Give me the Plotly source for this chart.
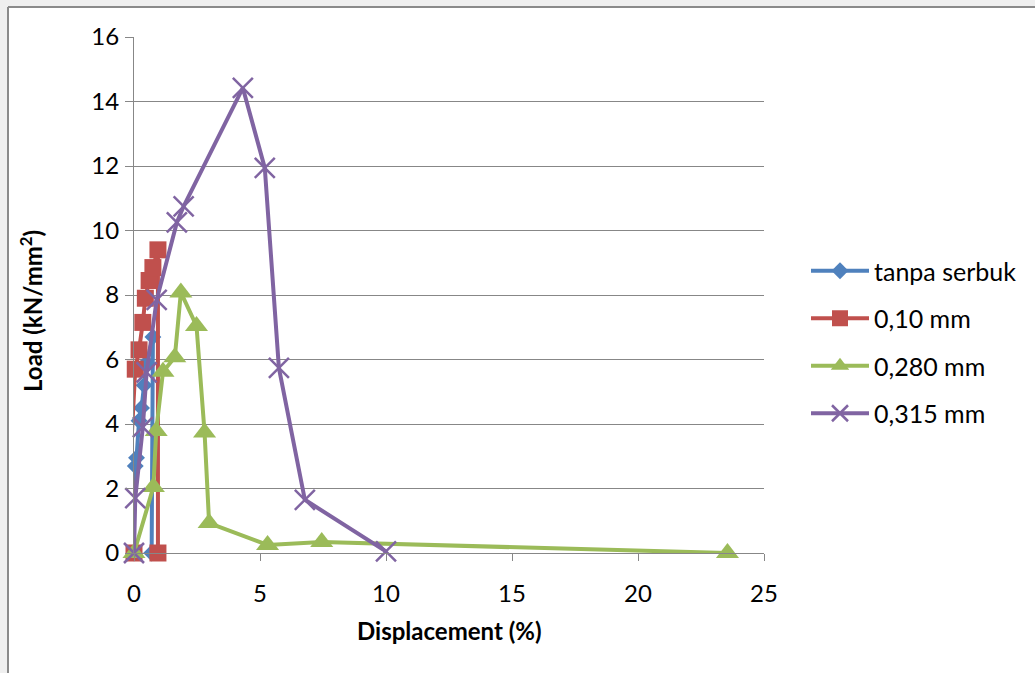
import plotly.graph_objects as go

# Load vs displacement for each sawdust grain size
blue_x = [0.0, -0.05, -0.05, 0.05, 0.1, 0.2, 0.3, 0.4, 0.5, 0.75, 0.7]
blue_y = [0.0, 1.4, 1.8, 2.7, 2.95, 4.1, 4.5, 5.2, 5.9, 6.7, 0.0]

red_x = [0.0, -0.1, 0.05, 0.2, 0.35, 0.45, 0.6, 0.75, 0.95, 0.95]
red_y = [0.0, 3.45, 5.7, 6.3, 7.15, 7.9, 8.45, 8.85, 9.4, 0.0]

green_x = [0.0, 0.77, 0.88, 1.15, 1.62, 1.86, 2.48, 2.8, 2.98, 5.3, 7.45, 23.55]
green_y = [0.0, 2.05, 3.78, 5.62, 6.07, 8.08, 7.04, 3.74, 0.93, 0.25, 0.34, 0.0]

purple_x = [0.0, 0.05, 0.35, 0.5, 0.9, 1.7, 1.97, 4.32, 5.19, 5.75, 6.78, 10.0]
purple_y = [0.0, 1.7, 3.9, 5.6, 7.85, 10.25, 10.75, 14.42, 11.94, 5.74, 1.65, 0.05]

series_names = ["tanpa serbuk", "0,10 mm", "0,280 mm", "0,315 mm"]
x_ticks = [0, 5, 10, 15, 20, 25]
y_ticks = [0, 2, 4, 6, 8, 10, 12, 14, 16]

FONT = "Lato"
GRID = "#878787"

fig = go.Figure()

fig.add_trace(go.Scatter(
    x=blue_x, y=blue_y, name=series_names[0], mode="lines+markers",
    line=dict(color="#4F81BD", width=4),
    marker=dict(symbol="diamond", size=13, color="#4F81BD"),
    cliponaxis=False, legendgroup="a"))
fig.add_trace(go.Scatter(
    x=red_x, y=red_y, name=series_names[1], mode="lines+markers",
    line=dict(color="#C0504D", width=4),
    marker=dict(symbol="square", size=17, color="#C0504D"),
    cliponaxis=False, legendgroup="b"))
fig.add_trace(go.Scatter(
    x=green_x, y=green_y, name=series_names[2], mode="lines+markers",
    line=dict(color="#9BBB59", width=4),
    marker=dict(symbol="triangle-up", size=20, color="#9BBB59"),
    cliponaxis=False, legendgroup="c"))
fig.add_trace(go.Scatter(
    x=purple_x, y=purple_y, name=series_names[3], mode="lines+markers",
    line=dict(color="#8064A2", width=4),
    marker=dict(symbol="x-thin", size=20, color="#8064A2",
                line=dict(color="#8064A2", width=2.5)),
    cliponaxis=False, legendgroup="d"))

W, H = 1035, 673
L, R, T, B = 134, 764, 37, 553  # plot area edges in pixels


def px_x(p):
    return (p - L) / (R - L)


def px_y(p):
    return (B - p) / (B - T)


fig.update_layout(
    width=W, height=H,
    margin=dict(l=L, r=W - R, t=T, b=H - B, pad=0),
    paper_bgcolor="white", plot_bgcolor="white",
    font=dict(family=FONT, size=24, color="#000000"),
    showlegend=True,
    legend=dict(x=px_x(806), y=px_y(248), xanchor="left", yanchor="top",
                font=dict(family=FONT, size=25), tracegroupgap=12,
                bgcolor="rgba(0,0,0,0)", itemwidth=58),
    xaxis=dict(range=[0, 25], tickvals=x_ticks, ticks="outside", ticklen=7,
               tickcolor=GRID, showline=True, linecolor=GRID, linewidth=1,
               showgrid=False, zeroline=False, ticklabelstandoff=12,
               tickfont=dict(family=FONT, size=24)),
    yaxis=dict(range=[0, 16], tickvals=y_ticks, ticks="outside", ticklen=8,
               tickcolor=GRID, showline=True, linecolor=GRID, linewidth=1,
               showgrid=True, gridcolor=GRID, gridwidth=1, zeroline=False,
               ticklabelstandoff=1, tickfont=dict(family=FONT, size=24)),
    annotations=[
        dict(text="<b>Displacement (%)</b>", x=px_x(449), y=px_y(630),
             xref="paper", yref="paper", showarrow=False,
             xanchor="center", yanchor="middle",
             font=dict(family=FONT, size=24)),
        dict(text="<b>Load (kN/mm<sup>2</sup>)</b>", x=px_x(31), y=px_y(311),
             xref="paper", yref="paper", showarrow=False, textangle=-90,
             xanchor="center", yanchor="middle",
             font=dict(family=FONT, size=24)),
    ],
    shapes=[
        # grey surround outside the chart frame
        dict(type="rect", xref="paper", yref="paper", layer="below",
             x0=px_x(0), x1=px_x(8), y0=px_y(H), y1=px_y(0),
             fillcolor="#efefef", line=dict(width=0)),
        dict(type="rect", xref="paper", yref="paper", layer="below",
             x0=px_x(0), x1=px_x(W), y0=px_y(7), y1=px_y(0),
             fillcolor="#efefef", line=dict(width=0)),
        # chart frame (left and top edges)
        dict(type="line", xref="paper", yref="paper",
             x0=px_x(8), x1=px_x(8), y0=px_y(H), y1=px_y(7),
             line=dict(color="#8a8a8a", width=2)),
        dict(type="line", xref="paper", yref="paper",
             x0=px_x(8), x1=px_x(W), y0=px_y(7), y1=px_y(7),
             line=dict(color="#8a8a8a", width=2)),
    ],
)

fig.write_html("out.html")
